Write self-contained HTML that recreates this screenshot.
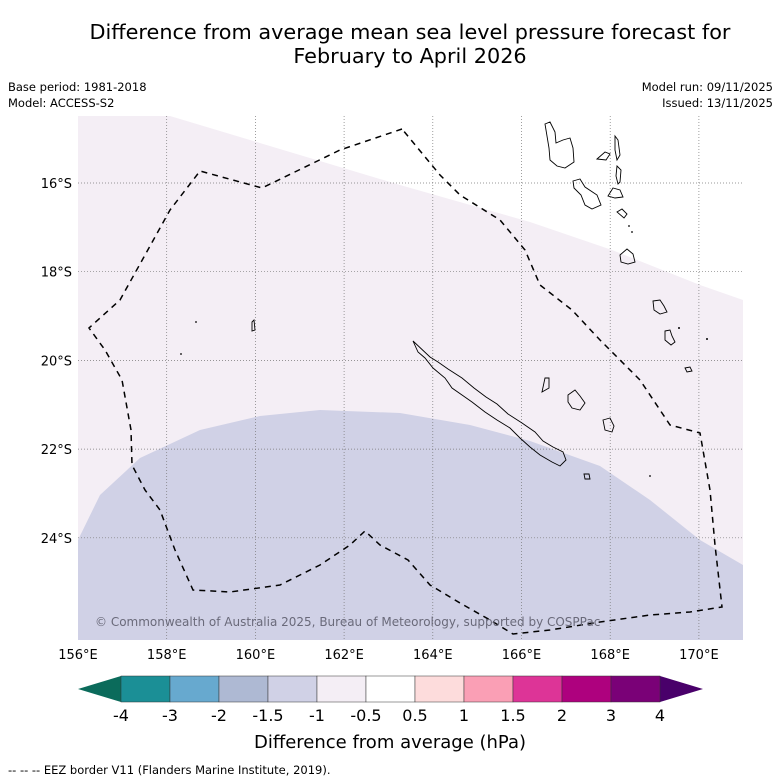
<!DOCTYPE html>
<html><head><meta charset="utf-8"><style>
body{margin:0;background:#fff;font-family:"Liberation Sans","DejaVu Sans",sans-serif}
svg{display:block}
</style></head><body>
<svg id="chart" width="781" height="781" viewBox="0 0 781 781" xmlns="http://www.w3.org/2000/svg" font-family="'DejaVu Sans','Liberation Sans',sans-serif">
<text x="410" y="39" font-size="20.8" text-anchor="middle">Difference from average mean sea level pressure forecast for</text>
<text x="410" y="63" font-size="20.8" text-anchor="middle">February to April 2026</text>
<text x="8" y="91" font-size="11.5">Base period: 1981-2018</text>
<text x="8" y="107" font-size="11.5">Model: ACCESS-S2</text>
<text x="773" y="91" font-size="11.5" text-anchor="end">Model run: 09/11/2025</text>
<text x="773" y="107" font-size="11.5" text-anchor="end">Issued: 13/11/2025</text>
<defs><clipPath id="mapclip"><rect x="78" y="116" width="665" height="524"/></clipPath></defs>
<g clip-path="url(#mapclip)">
<rect x="78" y="116" width="665" height="524" fill="#f4eef5"/>
<path d="M170,116 L400,185 L530,222 L612,250 L700,285 L743,300 L743,116 Z" fill="#ffffff"/>
<path d="M78,540 L100,495 L140,458 L200,430 L260,416 L320,410 L400,413 L470,425 L530,441 L600,466 L650,500 L700,540 L743,565 L743,640 L78,640 Z" fill="#d0d1e6"/>
<g id="grid"></g>
<g fill="none" stroke="#000" stroke-width="0.9">
<path d="M413,341 L418,352 L425,358 L433,368 L445,378 L452,388 L462,395 L472,402 L485,412 L497,420 L510,428 L520,438 L530,447 L540,455 L552,462 L560,466 L566,460 L563,452 L553,447 L543,441 L535,432 L522,423 L508,414 L497,404 L486,397 L474,388 L462,378 L448,369 L438,362 L430,357 Z"/>
<path d="M545,124 L550,122 L555,132 L556,143 L563,140 L570,138 L573,148 L574,162 L565,168 L557,166 L550,160 L549,148 Z"/>
<path d="M615,136 L618,140 L620,155 L617,160 L615,150 Z"/>
<path d="M597,159 L605,152 L610,154 L606,160 Z"/>
<path d="M617,166 L621,170 L620,182 L618,184 L616,176 Z"/>
<path d="M573,181 L580,179 L585,187 L597,195 L601,205 L592,209 L585,205 L581,195 L574,188 Z"/>
<path d="M608,196 L613,188 L620,190 L623,197 L615,198 Z"/>
<path d="M617,212 L622,209 L627,214 L624,218 Z"/>
<path d="M620,255 L627,249 L633,254 L635,262 L628,264 L621,262 Z"/>
<path d="M653,301 L660,300 L664,306 L667,312 L660,314 L654,310 Z"/>
<path d="M665,331 L670,330 L672,336 L675,342 L671,345 L665,340 Z"/>
<path d="M685,368 L690,367 L692,371 L687,372 Z"/>
<path d="M545,378 L549,378 L549,388 L542,392 Z"/>
<path d="M568,395 L575,390 L580,396 L585,403 L580,410 L572,408 L568,402 Z"/>
<path d="M603,420 L610,418 L614,426 L612,432 L605,430 Z"/>
<path d="M584,474 L589,474 L590,479 L585,479 Z"/>
<path d="M252,322 L254,320 L255,330 L252,331 Z"/>
</g>
<g fill="#000">
<circle cx="196" cy="322" r="0.9"/><circle cx="181" cy="354" r="0.9"/><circle cx="707" cy="339" r="1"/><circle cx="650" cy="476" r="0.9"/><circle cx="679" cy="328" r="1"/><circle cx="632" cy="232" r="0.9"/><circle cx="629" cy="226" r="0.9"/>
</g>
<path d="M402,129 L340,150 L262,188 L200,171 L170,210 L120,300 L89,328 L105,350 L122,380 L131,430 L132,465 L145,490 L160,510 L175,550 L193,590 L230,592 L280,585 L320,565 L350,545 L365,531 L380,545 L408,560 L430,585 L460,603 L490,620 L513,634 L550,630 L600,622 L650,615 L690,612 L722,607 L715,545 L710,490 L700,433 L670,425 L640,380 L600,340 L572,310 L540,285 L525,250 L500,220 L460,195 L440,175 Z" fill="none" stroke="#000" stroke-width="1.5" stroke-dasharray="6,5"/>
<text x="95" y="626" font-size="12" fill="#6a6a7a">© Commonwealth of Australia 2025, Bureau of Meteorology, supported by COSPPac</text>
</g>
<g id="axes" font-size="13"></g>
<g id="colorbar"></g>
<text x="390" y="748" font-size="18" text-anchor="middle">Difference from average (hPa)</text>
<text x="8" y="774" font-size="11.5">--  --  -- EEZ border V11 (Flanders Marine Institute, 2019).</text>
</svg>
<script>
const lonTicks=[156,158,160,162,164,166,168,170];
const latTicks=[16,18,20,22,24];
const cbLevels=["-4","-3","-2","-1.5","-1","-0.5","0.5","1","1.5","2","3","4"];
const cbColors=["#1b8f96","#67a9cf","#aeb9d3","#d0d1e6","#f4eef5","#ffffff","#fddcdc","#fa9fb5","#dd3497","#ae017e","#7a0177"];
const cbExtLow="#0b6b5b", cbExtHigh="#49006a";
const NS="http://www.w3.org/2000/svg";
const xOf=lon=>78+(lon-156)*44.35;
const yOf=lat=>183+(lat-16)*44.35;
function mk(tag,attrs,parent){const e=document.createElementNS(NS,tag);for(const k in attrs)e.setAttribute(k,attrs[k]);parent.appendChild(e);return e;}
const grid=document.getElementById('grid'), axes=document.getElementById('axes');
lonTicks.forEach(l=>{
  const x=xOf(l);
  if(l>156){const g=mk('line',{x1:x,x2:x,y1:116,y2:640,stroke:'#777','stroke-width':0.7,'stroke-dasharray':'1,2'},grid);
  
  }
  const t=mk('text',{x:x,y:659,'text-anchor':'middle'},axes);t.textContent=l+'°E';
  
  
});
latTicks.forEach(l=>{
  const y=yOf(l);
  const g=mk('line',{x1:78,x2:743,y1:y,y2:y,stroke:'#777','stroke-width':0.7,'stroke-dasharray':'1,2'},grid);
  
  
  const t=mk('text',{x:72,y:y+5,'text-anchor':'end'},axes);t.textContent=l+'°S';
  
  
});
const cb=document.getElementById('colorbar');
const x0=121,x1=660,yT=676,yB=702,w=(x1-x0)/cbColors.length;
const lo=mk('polygon',{points:`78,${(yT+yB)/2} ${x0},${yT} ${x0},${yB}`,fill:cbExtLow},cb);


const hi=mk('polygon',{points:`703,${(yT+yB)/2} ${x1},${yT} ${x1},${yB}`,fill:cbExtHigh},cb);


cbColors.forEach((c,i)=>{
  const r=mk('rect',{x:x0+i*w,y:yT,width:w,height:yB-yT,fill:c,stroke:'#333','stroke-width':0.5},cb);
  
  
});
cbLevels.forEach((v,i)=>{
  const t=mk('text',{x:x0+i*w,y:721,'text-anchor':'middle','font-size':16},cb);t.textContent=v;
  
  
});
</script>
</body></html>
